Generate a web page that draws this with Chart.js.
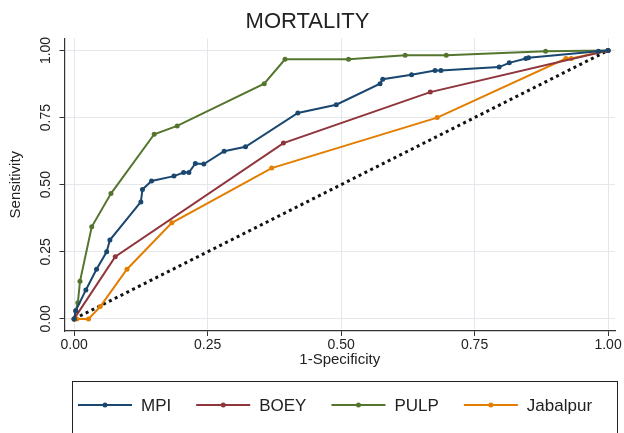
<!DOCTYPE html>
<html>
<head>
<meta charset="utf-8">
<title>MORTALITY</title>
<script src="https://cdn.jsdelivr.net/npm/chart.js@4/dist/chart.umd.min.js"></script>
<style>
	html, body { margin: 0; padding: 0; background: #fff; }
	canvas { display: block; }
</style>
</head>
<body>
<canvas id="chart" width="624" height="433"></canvas>
<script>
// ROC curves, values (x = 1-Specificity, y = Sensitivity)
const mpiFpr = [0, 0.003, 0.022, 0.042, 0.061, 0.067, 0.125, 0.128, 0.145, 0.187, 0.205, 0.215, 0.227, 0.243, 0.281, 0.321, 0.419, 0.491, 0.573, 0.578, 0.632, 0.676, 0.687, 0.796, 0.815, 0.846, 0.851, 0.982, 1];
const mpiTpr = [0, 0.03, 0.108, 0.185, 0.25, 0.294, 0.436, 0.482, 0.514, 0.532, 0.545, 0.545, 0.579, 0.577, 0.625, 0.641, 0.767, 0.798, 0.876, 0.893, 0.91, 0.925, 0.925, 0.938, 0.954, 0.97, 0.973, 0.997, 1];

const boeyFpr = [0, 0.077, 0.392, 0.667, 1];
const boeyTpr = [0, 0.232, 0.655, 0.845, 1];

const pulpFpr = [0, 0.003, 0.007, 0.011, 0.033, 0.069, 0.15, 0.193, 0.356, 0.395, 0.514, 0.62, 0.697, 0.883, 1];
const pulpTpr = [0, 0.03, 0.06, 0.14, 0.343, 0.467, 0.688, 0.719, 0.876, 0.967, 0.967, 0.982, 0.982, 0.997, 1];

const jabFpr = [0, 0.005, 0.027, 0.049, 0.099, 0.183, 0.37, 0.68, 0.921, 0.931, 1];
const jabTpr = [0, 0, 0, 0.046, 0.185, 0.358, 0.562, 0.75, 0.97, 0.97, 1];

const refLine = [0, 1];
const tickValues = [0, 0.25, 0.5, 0.75, 1];

const FONT = "'Liberation Sans', Arial, sans-serif";

const toPoints = (xs, ys) => xs.map((x, i) => ({ x: x, y: ys[i] }));

function curve(label, xs, ys, color) {
	return {
		label: label,
		data: toPoints(xs, ys),
		showLine: true,
		borderColor: color,
		backgroundColor: color,
		borderWidth: 2,
		pointRadius: 2.5,
		pointBorderWidth: 0,
		tension: 0,
	};
}

// Stata-like boxed legend with line + marker samples
const boxLegend = {
	id: "boxLegend",
	afterDraw(chart) {
		const ctx = chart.ctx;
		ctx.save();
		ctx.strokeStyle = "#222";
		ctx.lineWidth = 1;
		ctx.strokeRect(72.5, 381.5, 545, 80);

		ctx.font = "17px " + FONT;
		ctx.textBaseline = "middle";
		ctx.textAlign = "left";
		let x = 78;
		const y = 405;
		chart.data.datasets.forEach((ds) => {
			if (!ds.label) return;
			ctx.strokeStyle = ds.borderColor;
			ctx.lineWidth = 2;
			ctx.beginPath();
			ctx.moveTo(x, y);
			ctx.lineTo(x + 54, y);
			ctx.stroke();
			ctx.fillStyle = ds.borderColor;
			ctx.beginPath();
			ctx.arc(x + 27, y, 2.5, 0, Math.PI * 2);
			ctx.fill();
			x += 63;
			ctx.fillStyle = "#222";
			ctx.fillText(ds.label, x, y + 1);
			x += ctx.measureText(ds.label).width + 25;
		});
		ctx.restore();
	},
};

// vertical (rotated) y tick labels
const rotatedYTicks = {
	id: "rotatedYTicks",
	afterDraw(chart) {
		const ctx = chart.ctx;
		const yScale = chart.scales.y;
		ctx.save();
		ctx.font = "14px " + FONT;
		ctx.fillStyle = "#222";
		ctx.textAlign = "center";
		ctx.textBaseline = "middle";
		tickValues.forEach((v) => {
			ctx.save();
			ctx.translate(chart.chartArea.left - 18, yScale.getPixelForValue(v));
			ctx.rotate(-Math.PI / 2);
			ctx.fillText(v.toFixed(2), 0, 0);
			ctx.restore();
		});
		ctx.restore();
	},
};

const ctx = document.getElementById("chart").getContext("2d");

new Chart(ctx, {
	type: "scatter",
	data: {
		datasets: [
			curve("MPI", mpiFpr, mpiTpr, "#1a476f"),
			curve("BOEY", boeyFpr, boeyTpr, "#90353b"),
			curve("PULP", pulpFpr, pulpTpr, "#55752f"),
			curve("Jabalpur", jabFpr, jabTpr, "#e37e00"),
			{
				label: "",
				data: toPoints(refLine, refLine),
				showLine: true,
				borderColor: "#111",
				borderWidth: 3,
				borderDash: [3, 3.5],
				pointRadius: 0,
			},
		],
	},
	options: {
		responsive: false,
		animation: false,
		devicePixelRatio: 1,
		layout: {
			autoPadding: false,
			padding: { left: 0, right: 9, top: 0, bottom: 61 },
		},
		plugins: {
			legend: { display: false },
			tooltip: { enabled: false },
			title: {
				display: true,
				text: "MORTALITY",
				color: "#222",
				font: { family: FONT, size: 22, weight: "normal" },
				padding: { top: 9, bottom: 3 },
			},
		},
		scales: {
			x: {
				type: "linear",
				min: -0.018,
				max: 1.013,
				afterBuildTicks: (s) => {
					s.ticks = tickValues.map((v) => ({ value: v }));
				},
				afterFit: (s) => {
					s.height = 41;
				},
				ticks: {
					color: "#222",
					font: { family: FONT, size: 14 },
					padding: 1,
					maxRotation: 0,
					callback: (v) => Number(v).toFixed(2),
				},
				grid: { color: "#e4e8ec", tickColor: "#333", tickLength: 5 },
				border: { color: "#333", width: 1.2 },
				title: {
					display: true,
					text: "1-Specificity",
					color: "#222",
					font: { family: FONT, size: 15 },
					padding: { top: 0, bottom: 3 },
				},
			},
			y: {
				type: "linear",
				min: -0.045,
				max: 1.045,
				afterBuildTicks: (s) => {
					s.ticks = tickValues.map((v) => ({ value: v }));
				},
				afterFit: (s) => {
					s.width = 64.5;
				},
				ticks: { display: false },
				grid: { color: "#e4e8ec", tickColor: "#333", tickLength: 5 },
				border: { color: "#333", width: 1.2 },
				title: {
					display: true,
					text: "Sensitivity",
					color: "#222",
					font: { family: FONT, size: 15 },
					padding: { top: 7, bottom: 0 },
				},
			},
		},
	},
	plugins: [boxLegend, rotatedYTicks],
});
</script>
</body>
</html>
